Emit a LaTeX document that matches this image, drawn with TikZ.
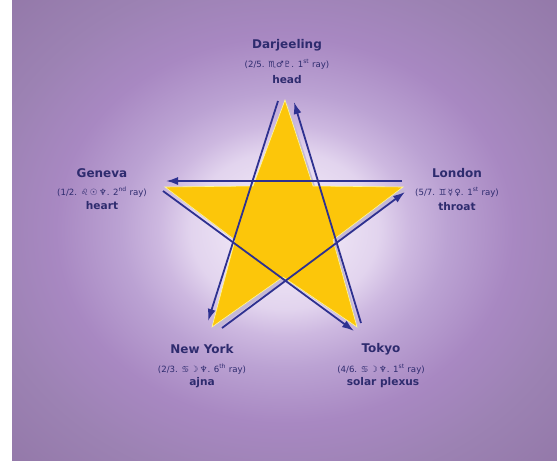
\documentclass[tikz,border=0pt]{standalone}
\usepackage{fontspec}
\setmainfont{DejaVu Sans}
\usetikzlibrary{arrows.meta}
\definecolor{navy}{HTML}{2E2B6E}
\definecolor{arrowblue}{HTML}{2E3190}
\definecolor{staryellow}{HTML}{FCC60A}
\definecolor{starshadow}{HTML}{C4B8D6}
\definecolor{bgA}{HTML}{F6F0FA}
\definecolor{bgB}{HTML}{EFE6F6}
\definecolor{bgC}{HTML}{E2D4EE}
\definecolor{bgD}{HTML}{CDB8E0}
\definecolor{bgE}{HTML}{BBA2D3}
\definecolor{bgF}{HTML}{A888C2}
\definecolor{bgG}{HTML}{9C82B3}
\definecolor{bgH}{HTML}{9176A6}
\pgfdeclareradialshading{bgshade}{\pgfpoint{0bp}{0bp}}{color(0bp)=(bgA); color(3.5bp)=(bgB); color(8.6bp)=(bgC); color(11.5bp)=(bgD); color(15bp)=(bgE); color(21bp)=(bgF); color(28bp)=(bgG); color(38bp)=(bgH)}
\tikzset{
  city/.style={font=\bfseries\fontsize{12}{14}\selectfont, text=navy, inner sep=0pt},
  organ/.style={font=\bfseries\fontsize{10.6}{12}\selectfont, text=navy, inner sep=0pt},
  sub/.style={font=\fontsize{8.6}{10}\selectfont, text=navy, inner sep=0pt},
  ray/.style={draw=arrowblue, line width=1.8pt, -{Latex[length=12pt,width=8pt]}}
}
\begin{document}
\begin{tikzpicture}[x=1pt,y=-1pt]
\useasboundingbox (0,0) rectangle (557,461);
\fill[white] (0,0) rectangle (557,461);
\shade[shading=bgshade] (12,0) rectangle (557,460);
% star points
\coordinate (T) at (285,100);
\coordinate (TRi) at (313,186);
\coordinate (R) at (403,187);
\coordinate (RBi) at (333,240);
\coordinate (BR) at (357,327);
\coordinate (Bi) at (283,277);
\coordinate (BL) at (212,327);
\coordinate (LBi) at (235,240);
\coordinate (L) at (165,187);
\coordinate (TLi) at (253,186);
\fill[starshadow] ([shift={(3,3)}]T) -- ([shift={(3,3)}]TRi) -- ([shift={(3,3)}]R) -- ([shift={(3,3)}]RBi) -- ([shift={(3,3)}]BR) -- ([shift={(3,3)}]Bi) -- ([shift={(3,3)}]BL) -- ([shift={(3,3)}]LBi) -- ([shift={(3,3)}]L) -- ([shift={(3,3)}]TLi) -- cycle;
\fill[staryellow, draw=yellow!40!white, line width=0.6pt] (T) -- (TRi) -- (R) -- (RBi) -- (BR) -- (Bi) -- (BL) -- (LBi) -- (L) -- (TLi) -- cycle;
% arrow ends
\coordinate (a1s) at (278,101); \coordinate (a1e) at (208,321);
\coordinate (a2s) at (222,328); \coordinate (a2e) at (405,192);
\coordinate (a3s) at (402,181); \coordinate (a3e) at (166,181);
\coordinate (a4s) at (163,191); \coordinate (a4e) at (354,331);
\coordinate (a5s) at (361,323); \coordinate (a5e) at (294,102);
\draw[ray] (a1s) -- (a1e);
\draw[ray] (a2s) -- (a2e);
\draw[ray] (a3s) -- (a3e);
\draw[ray] (a4s) -- (a4e);
\draw[ray] (a5s) -- (a5e);
% labels
\node[city] (dj) at (287,45) {Darjeeling};
\node[sub] (djs) at (287,64) {(2/5. ♏♂♇. 1\textsuperscript{st} ray)};
\node[organ] (djo) at (287,80) {head};
\node[city] (ge) at (102,173) {Geneva};
\node[sub] (ges) at (102,192) {(1/2. ♌\,☉\,♆. 2\textsuperscript{nd} ray)};
\node[organ] (geo) at (102,206) {heart};
\node[city] (lo) at (457,173) {London};
\node[sub] (los) at (457,192) {(5/7. ♊\,☿\,♀. 1\textsuperscript{st} ray)};
\node[organ] (loo) at (457,207) {throat};
\node[city] (ny) at (202,349) {New York};
\node[sub] (nys) at (202,369) {(2/3. ♋\,☽\,♆. 6\textsuperscript{th} ray)};
\node[organ] (nyo) at (202,383) {ajna};
\node[city] (tk) at (381,349) {Tokyo};
\node[sub] (tks) at (381,369) {(4/6. ♋\,☽\,♆. 1\textsuperscript{st} ray)};
\node[organ] (tko) at (383,383) {solar plexus};
\end{tikzpicture}
\end{document}
